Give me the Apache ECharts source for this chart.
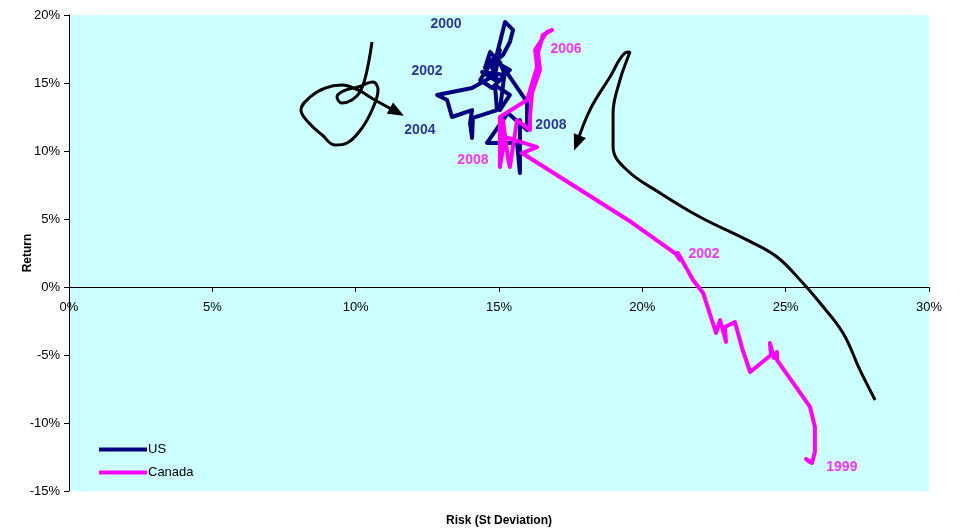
<!DOCTYPE html>
<html><head><meta charset="utf-8">
<script src="https://cdn.jsdelivr.net/npm/echarts@6/dist/echarts.min.js"></script>
<style>html,body{margin:0;padding:0;background:#fff}#c{width:961px;height:532px}</style>
</head><body><div id="c"></div>
<script>
// Axis ticks (percent)
const xTickMin = 0, xTickMax = 30, xTickStep = 5;
const yTickMin = -15, yTickMax = 20, yTickStep = 5;

// US rolling risk / return (%)
const usRisk   = [14.86,15.21,15.49,15.38,15.14,14.93,14.69,14.51,15.03,15.21,14.41,14.97,14.62,15.38,14.76,14.34,15.03,14.86,14.06,12.84,13.19,13.36,14.06,13.99,14.06,14.09,14.93,14.86,15.38,15.03,15.21,15.98,15.98,15.31,14.58,15.63,15.73,15.73];
const usReturn = [16.54,19.49,18.90,18.01,17.06,16.69,17.28,16.10,16.54,15.59,15.81,15.07,16.84,15.96,14.63,15.22,17.43,15.59,14.63,14.12,13.75,12.50,13.01,12.06,10.96,12.43,13.01,14.85,14.12,13.01,15.96,13.60,11.54,12.79,10.59,10.59,8.38,12.28];

// Canada rolling risk / return (%)
const caRisk   = [25.85,25.71,25.92,26.02,26.02,25.85,24.70,24.70,24.59,24.45,24.49,23.76,23.48,23.23,22.88,22.92,22.81,22.71,22.57,22.12,21.77,21.24,21.31,21.17,19.50,15.80,16.33,15.21,15.03,15.03,15.98,16.19,16.33,16.26,16.67,16.85,16.53,16.36,16.43,16.15,16.08,16.08,15.63,15.38,15.31,15.14,15.03];
const caReturn = [-12.87,-12.65,-12.94,-12.13,-10.29,-8.82,-5.37,-4.78,-5.22,-4.12,-5.00,-6.25,-4.49,-2.57,-2.94,-4.04,-3.16,-2.43,-3.38,-0.44,0.51,2.50,1.99,2.43,4.93,9.85,10.29,11.03,8.82,12.50,13.75,15.22,16.18,17.43,18.75,18.90,18.53,17.21,15.96,14.26,12.50,11.54,12.28,8.82,9.49,12.28,9.34];

// Hand-drawn annotation arrows (in data units)
const loopRisk   = [10.57,10.36,10.15,9.87,9.52,9.35,9.56,10.08,10.60,10.78,10.60,10.22,9.70,9.28,8.83,8.34,8.09,8.41,8.93,9.52,10.08,10.67,11.44];
const loopReturn = [18.01,15.59,14.34,13.75,13.53,13.97,14.41,14.71,15.07,14.49,13.16,11.69,10.59,10.44,11.18,12.13,13.01,13.97,14.63,14.85,14.49,13.75,12.87];
const sweepRisk   = [28.12,27.59,27.00,26.20,25.60,24.70,23.65,22.01,20.62,19.46,18.98,18.98,19.22,19.50,19.57,19.40,18.87,18.17,17.72];
const sweepReturn = [-8.31,-6.10,-3.38,-1.18,0.29,2.21,3.46,5.15,6.91,8.60,10.29,12.79,15.22,16.91,17.28,17.21,15.44,13.01,10.59];

// Year annotations
const usYearText   = ['2000','2002','2004','2008'];
const usYearRisk   = [13.15,12.49,12.24,16.81];
const usYearReturn = [19.34,15.88,11.54,11.91];
const caYearText   = ['2006','2008','2002','1999'];
const caYearRisk   = [17.34,14.09,22.15,26.96];
const caYearReturn = [17.50,9.34,2.43,-13.24];

const zip = (a,b) => a.map((v,i)=>[v,b[i]]);
const FONT = 'Liberation Sans, Arial, sans-serif';

const chart = echarts.init(document.getElementById('c'));

function arrowData(xs, ys, rot){
  const d = zip(xs, ys).map(p => ({value:p}));
  d[d.length-1] = {value: d[d.length-1].value, symbol:'triangle', symbolSize:[13,16], symbolRotate: rot};
  return d;
}

function yearSeries(name, texts, xs, ys, color){
  return {
    name, type:'scatter', symbol:'circle', symbolSize:2, itemStyle:{color:'rgba(0,0,0,0)'}, silent:true, z:6,
    data: texts.map((t,i)=>({name:t, value:[xs[i], ys[i]]})),
    label:{show:true, position:'inside', formatter:p=>p.name, color, fontFamily:FONT, fontWeight:'bold', fontSize:14}
  };
}

function buildOption(rotLoop, rotSweep){
  return {
    animation:false,
    backgroundColor:'#ffffff',
    grid:{left:69, right:32, top:15, bottom:41, show:true, backgroundColor:'#CCFFFF', borderWidth:0,
          containLabel:false, outerBoundsMode:'none'},
    legend:{
      data:['US','Canada'], orient:'vertical', left:94, top:438, itemWidth:48, itemHeight:4, itemGap:10,
      textStyle:{fontFamily:FONT, fontSize:13, color:'#000', padding:[0,0,0,-4]},
      icon:'rect'
    },
    xAxis:{
      type:'value', min:xTickMin, max:xTickMax, interval:xTickStep,
      offset:-204,
      name:'Risk (St Deviation)', nameLocation:'middle', nameGap:228, nameMoveOverlap:false,
      nameTextStyle:{fontFamily:FONT, fontWeight:'bold', fontSize:12, color:'#000'},
      axisLine:{onZero:false, lineStyle:{color:'#000', width:1}},
      axisTick:{length:5, lineStyle:{color:'#000'}},
      axisLabel:{formatter:v=>v+'%', fontFamily:FONT, fontSize:13, color:'#000', margin:14},
      splitLine:{show:false}
    },
    yAxis:{
      type:'value', min:yTickMin, max:yTickMax, interval:yTickStep,
      name:'Return', nameLocation:'middle', nameGap:35, nameRotate:90, nameMoveOverlap:false,
      nameTextStyle:{fontFamily:FONT, fontWeight:'bold', fontSize:12, color:'#000'},
      axisLine:{show:true, onZero:false, lineStyle:{color:'#000', width:1}},
      axisTick:{show:true, length:5, lineStyle:{color:'#000'}},
      axisLabel:{formatter:v=>v+'%', fontFamily:FONT, fontSize:13, color:'#000', margin:9},
      splitLine:{show:false}
    },
    series:[
      {name:'loopArrow', type:'line', smooth:0.4, symbol:'none', z:3, silent:true,
       lineStyle:{color:'#000', width:3}, itemStyle:{color:'#000'},
       data: arrowData(loopRisk, loopReturn, rotLoop)},
      {name:'sweepArrow', type:'line', smooth:0.4, symbol:'none', z:3, silent:true,
       lineStyle:{color:'#000', width:3}, itemStyle:{color:'#000'},
       data: arrowData(sweepRisk, sweepReturn, rotSweep)},
      {name:'US', type:'line', symbol:'none', z:4, lineStyle:{color:'#000080', width:4, join:'round', cap:'round'},
       itemStyle:{color:'#000080'}, data: zip(usRisk, usReturn)},
      {name:'Canada', type:'line', symbol:'none', z:4, lineStyle:{color:'#FF00FF', width:4, join:'round', cap:'round'},
       itemStyle:{color:'#FF00FF'}, data: zip(caRisk, caReturn)},
      yearSeries('usYears', usYearText, usYearRisk, usYearReturn, '#000080'),
      yearSeries('caYears', caYearText, caYearRisk, caYearReturn, '#FF00FF')
    ]
  };
}

chart.setOption(buildOption(0,0));
function rotFor(xs, ys){
  const n = xs.length;
  const a = chart.convertToPixel({gridIndex:0}, [xs[n-2], ys[n-2]]);
  const b = chart.convertToPixel({gridIndex:0}, [xs[n-1], ys[n-1]]);
  const ang = Math.atan2(-(b[1]-a[1]), b[0]-a[0]) * 180 / Math.PI;
  return ang - 90;
}
chart.setOption(buildOption(rotFor(loopRisk, loopReturn), rotFor(sweepRisk, sweepReturn)), true);
</script>
</body></html>
